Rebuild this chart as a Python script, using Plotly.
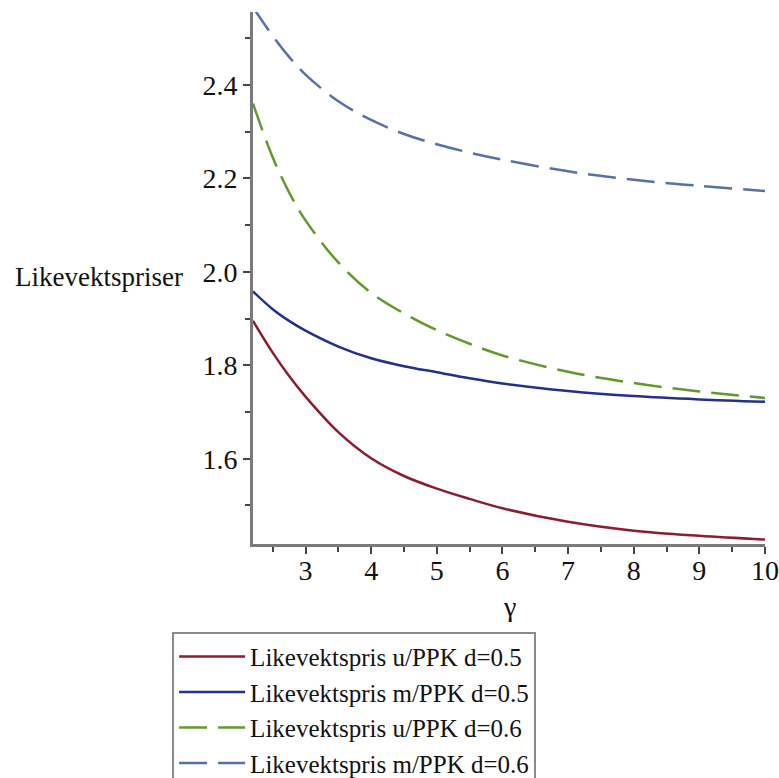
import plotly.graph_objects as go

# gamma values and equilibrium prices
gamma = [2.2, 2.5, 2.75, 3, 3.5, 4, 4.5, 5, 5.5, 6, 7, 8, 9, 10]

u_ppk_d05 = [1.895, 1.827, 1.777, 1.733, 1.657, 1.601, 1.563, 1.536, 1.514, 1.494, 1.465, 1.446, 1.435, 1.427]
m_ppk_d05 = [1.958, 1.920, 1.895, 1.874, 1.840, 1.815, 1.798, 1.785, 1.772, 1.761, 1.745, 1.734, 1.727, 1.722]
u_ppk_d06 = [2.360, 2.245, 2.170, 2.110, 2.020, 1.955, 1.911, 1.875, 1.846, 1.821, 1.786, 1.762, 1.744, 1.730]
m_ppk_d06 = [2.566, 2.505, 2.460, 2.422, 2.365, 2.325, 2.295, 2.273, 2.255, 2.240, 2.215, 2.197, 2.184, 2.173]

series_names = [
    "Likevektspris u/PPK d=0.5",
    "Likevektspris m/PPK d=0.5",
    "Likevektspris u/PPK d=0.6",
    "Likevektspris m/PPK d=0.6",
]
series_values = [u_ppk_d05, m_ppk_d05, u_ppk_d06, m_ppk_d06]
colors = ["#8B1E2E", "#22308E", "#63982A", "#5571A6"]
dashes = ["solid", "solid", "28px,11px", "28px,11px"]

FONT = "Liberation Serif"
AXIS_GRAY = "#7a7a7a"

fig = go.Figure()
for name, vals, col, dash in zip(series_names, series_values, colors, dashes):
    fig.add_trace(go.Scatter(
        x=gamma, y=vals, mode="lines", name=name,
        line=dict(color=col, width=2.5, dash=dash, shape="spline", smoothing=1.0),
    ))

fig.update_layout(
    width=779, height=778,
    margin=dict(l=253, r=14, t=12, b=234, autoexpand=False),
    paper_bgcolor="white", plot_bgcolor="white",
    font=dict(family=FONT, size=28, color="#111111"),
    showlegend=True,
    legend=dict(
        x=-0.158, y=-0.165, xanchor="left", yanchor="top",
        bordercolor="#8a8a8a", borderwidth=2,
        font=dict(family=FONT, size=25, color="#111111"),
        itemwidth=66, tracegroupgap=0,
        bgcolor="white",
    ),
    xaxis=dict(
        range=[2.2, 10], dtick=1, tick0=0,
        showgrid=False, zeroline=False,
        showline=True, linecolor=AXIS_GRAY, linewidth=3,
        ticks="outside", ticklen=7, tickwidth=2, tickcolor="#444444",
        minor=dict(ticks="outside", ticklen=5, tickwidth=2, tickcolor="#444444", dtick=0.5, tick0=0),
        tickfont=dict(family=FONT, size=28),
        ticklabelstandoff=-8,
    ),
    yaxis=dict(
        range=[1.4175, 2.556], dtick=0.2, tick0=0, tickformat=".1f",
        showgrid=False, zeroline=False,
        showline=True, linecolor=AXIS_GRAY, linewidth=3,
        ticks="outside", ticklen=7, tickwidth=2, tickcolor="#444444",
        minor=dict(ticks="outside", ticklen=5, tickwidth=2, tickcolor="#444444", dtick=0.1, tick0=0),
        tickfont=dict(family=FONT, size=28),
    ),
    annotations=[
        dict(text="Likevektspriser", xref="paper", yref="paper",
             x=-0.133, y=0.502, xanchor="right", yanchor="middle",
             showarrow=False, font=dict(family=FONT, size=27)),
        dict(text="γ", xref="paper", yref="paper",
             x=0.5, y=-0.118, xanchor="center", yanchor="middle",
             showarrow=False, font=dict(family=FONT, size=28)),
    ],
)

fig.write_html("out.html")
